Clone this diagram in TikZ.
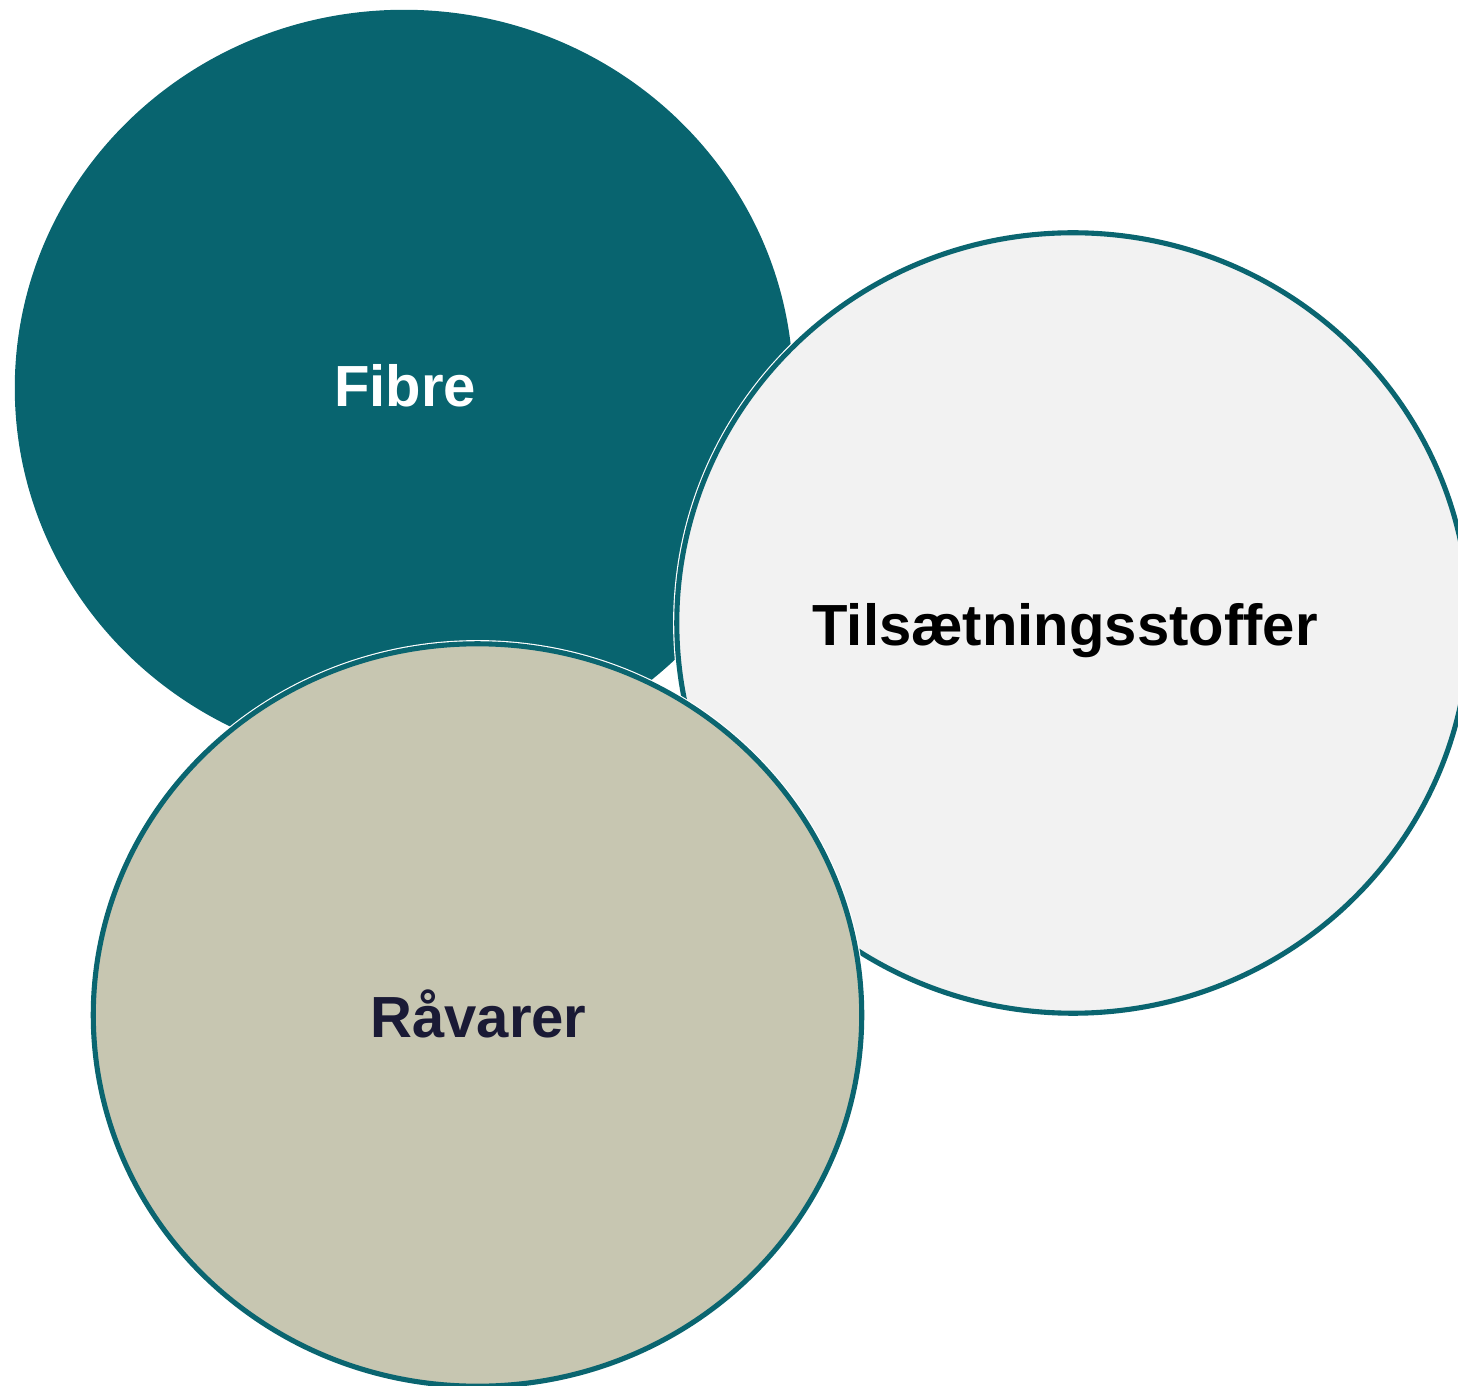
\documentclass[tikz,border=0pt]{standalone}
\usepackage{fontspec}
\setmainfont{Liberation Sans}
\usetikzlibrary{shapes.geometric}
\definecolor{tealfill}{RGB}{8,100,111}
\definecolor{tealline}{RGB}{10,101,112}
\definecolor{lightfill}{RGB}{242,242,242}
\definecolor{sandfill}{RGB}{199,198,177}
\definecolor{navytext}{RGB}{26,26,53}
\tikzset{
  blob/.style={ellipse, inner sep=0pt, outer sep=0pt},
  ringed/.style={draw=tealline, line width=1.45pt,
    preaction={draw=white, line width=2.1pt}},
  lbl/.style={anchor=base, inner sep=0pt, font=\fontsize{16.5pt}{18pt}\selectfont\bfseries}
}
\begin{document}
\begin{tikzpicture}[x=0.01cm, y=-0.01cm]
\useasboundingbox (0,0) rectangle (1458,1386);
\node[blob, fill=tealfill, minimum width=7.78cm, minimum height=7.56cm] (fibre) at (404,388) {};
\node[blob, ringed, fill=lightfill, minimum width=7.92cm, minimum height=7.80cm] (tils) at (1073,623) {};
\node[blob, ringed, fill=sandfill, minimum width=7.68cm, minimum height=7.42cm] (raa) at (477.5,1015) {};
\node[lbl, text=white] (fibretxt) at (405,407) {Fibre};
\node[lbl, text=black] (tilstxt) at (1065,646) {Tilsætningsstoffer};
\node[lbl, text=navytext] (raatxt) at (478.5,1037) {Råvarer};
\end{tikzpicture}
\end{document}
